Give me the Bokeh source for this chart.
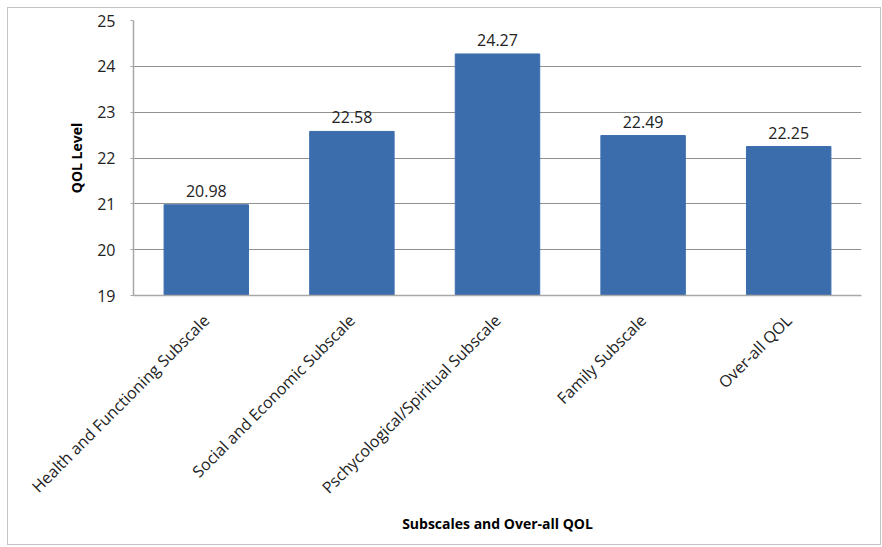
import math
from bokeh.plotting import figure
from bokeh.models import ColumnDataSource, FixedTicker, LabelSet
from bokeh.core.properties import value
from bokeh.embed import file_html
from bokeh.resources import INLINE

categories = [
    "Health and Functioning Subscale",
    "Social and Economic Subscale",
    "Pschycological/Spiritual Subscale",
    "Family Subscale",
    "Over-all QOL",
]
values = [20.98, 22.58, 24.27, 22.49, 22.25]
value_labels = ["20.98", "22.58", "24.27", "22.49", "22.25"]
y_ticks = [19, 20, 21, 22, 23, 24, 25]

FONT = "Open Sans"
BAR = "#3B6DAD"

src = ColumnDataSource(dict(cat=categories, val=values, lab=value_labels))

p = figure(
    x_range=categories, y_range=(19, 25),
    width=874, height=538,
    output_backend="svg", toolbar_location=None,
    min_border_left=125, min_border_right=21, min_border_top=12, min_border_bottom=251,
)
p.styles = {"margin-left": "7px", "margin-top": "7px", "border": "1px solid #c4c4c4"}

p.vbar(x="cat", top="val", bottom=19, width=0.58, source=src,
       fill_color=BAR, line_color=BAR)

labels = LabelSet(x="cat", y="val", text="lab", source=src,
                  text_align="center", text_baseline="bottom", y_offset=8,
                  text_font=value(FONT), text_font_size="16px", text_color="#222222")
p.add_layout(labels)

p.outline_line_color = None
p.xgrid.grid_line_color = None
p.ygrid.grid_line_color = "#919191"
p.ygrid.grid_line_width = 1.2
p.yaxis.ticker = FixedTicker(ticks=y_ticks)

for ax in (p.xaxis[0], p.yaxis[0]):
    ax.axis_line_color = "#a8a8a8"
    ax.axis_line_width = 1.5
    ax.major_label_text_font = FONT
    ax.major_label_text_font_size = "16px"
    ax.major_label_text_color = "#222222"
    ax.axis_label_text_font = FONT
    ax.axis_label_text_font_size = "14px"
    ax.axis_label_text_font_style = "bold"
    ax.axis_label_text_color = "#000000"
    ax.minor_tick_line_color = None

p.yaxis.major_tick_line_color = "#a8a8a8"
p.yaxis.major_tick_out = 3
p.yaxis.major_tick_in = 0
p.yaxis.major_label_standoff = 15
p.yaxis.axis_label = "QOL Level"
p.yaxis.axis_label_standoff = 8

p.xaxis.major_tick_line_color = None
p.xaxis.major_label_orientation = math.pi / 4
p.xaxis.major_label_standoff = 16
p.xaxis.axis_label = "Subscales and Over-all QOL"
p.xaxis.axis_label_standoff = 5
p.x_range.range_padding = 0

open("out.html", "w").write(file_html(p, INLINE))
